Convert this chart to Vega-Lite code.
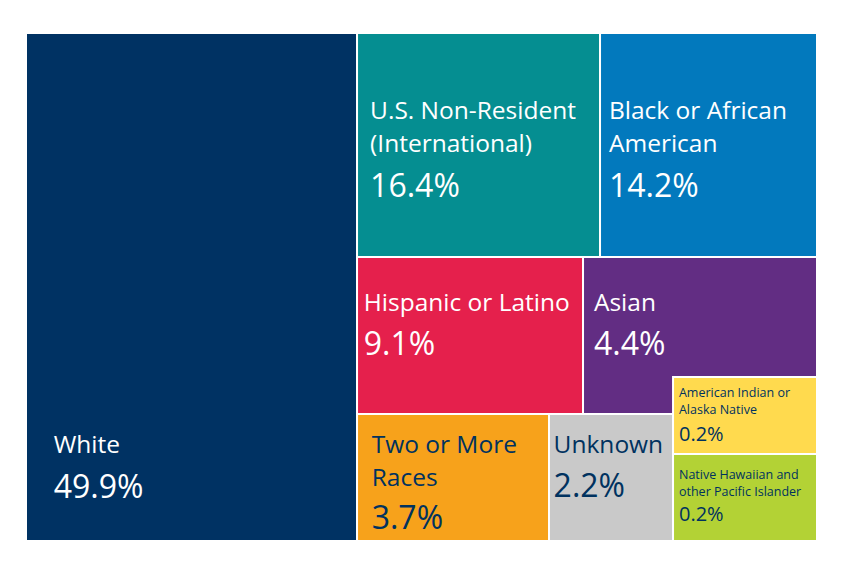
{
  "$schema": "https://vega.github.io/schema/vega-lite/v6.json",
  "width": 791,
  "height": 508,
  "autosize": {"type": "none"},
  "padding": {"left": 26, "top": 33, "right": 31, "bottom": 33},
  "background": "white",
  "config": {"view": {"stroke": null}, "font": "Open Sans"},
  "datasets": {
    "enrollment": [
      {"category": "White", "pct": 49.9},
      {"category": "U.S. Non-Resident (International)", "pct": 16.4},
      {"category": "Black or African American", "pct": 14.2},
      {"category": "Hispanic or Latino", "pct": 9.1},
      {"category": "Asian", "pct": 4.4},
      {"category": "Two or More Races", "pct": 3.7},
      {"category": "Unknown", "pct": 2.2},
      {"category": "American Indian or Alaska Native", "pct": 0.2},
      {"category": "Native Hawaiian and other Pacific Islander", "pct": 0.2}
    ],
    "tiles": [
      {"category": "White", "x0": 0, "x1": 41.85, "y0": 0, "y1": 100, "lx": 3.5, "ly": 82.74, "py": 91.59, "lines": ["White"]},
      {"category": "U.S. Non-Resident (International)", "x0": 41.85, "x1": 72.57, "y0": 0, "y1": 44.09, "lx": 43.5, "ly": 16.93, "py": 32.22, "lines": ["U.S. Non-Resident", "(International)"]},
      {"category": "Black or African American", "x0": 72.57, "x1": 100, "y0": 0, "y1": 44.09, "lx": 73.7, "ly": 16.93, "py": 32.22, "lines": ["Black or African", "American"]},
      {"category": "Hispanic or Latino", "x0": 41.85, "x1": 70.42, "y0": 44.09, "y1": 75.0, "lx": 42.7, "ly": 54.72, "py": 63.39, "lines": ["Hispanic or Latino"]},
      {"category": "Asian", "x0": 70.42, "x1": 100, "y0": 44.09, "y1": 75.0, "lx": 71.8, "ly": 54.72, "py": 63.39, "lines": ["Asian"]},
      {"category": "Two or More Races", "x0": 41.85, "x1": 66.12, "y0": 75.0, "y1": 100, "lx": 43.7, "ly": 82.62, "py": 97.7, "lines": ["Two or More", "Races"]},
      {"category": "Unknown", "x0": 66.12, "x1": 81.8, "y0": 75.0, "y1": 100, "lx": 66.7, "ly": 82.62, "py": 91.28, "lines": ["Unknown"]},
      {"category": "American Indian or Alaska Native", "x0": 81.8, "x1": 100, "y0": 67.72, "y1": 82.87, "lx": 82.55, "ly": 71.71, "py": 80.26, "lines": ["American Indian or", "Alaska Native"]},
      {"category": "Native Hawaiian and other Pacific Islander", "x0": 81.8, "x1": 100, "y0": 82.87, "y1": 100, "lx": 82.55, "ly": 87.8, "py": 96.06, "lines": ["Native Hawaiian and", "other Pacific Islander"]}
    ]
  },
  "data": {"name": "enrollment"},
  "transform": [
    {
      "lookup": "category",
      "from": {
        "data": {"name": "tiles"},
        "key": "category",
        "fields": ["x0", "x1", "y0", "y1", "lx", "ly", "py", "lines"]
      }
    },
    {"calculate": "format(datum.pct, '.1f') + '%'", "as": "pctLabel"}
  ],
  "layer": [
    {
      "mark": {"type": "rect", "stroke": "white", "strokeWidth": 2},
      "encoding": {
        "x": {"field": "x0", "type": "quantitative", "scale": {"domain": [0, 100]}, "axis": null},
        "x2": {"field": "x1"},
        "y": {"field": "y0", "type": "quantitative", "scale": {"domain": [0, 100], "reverse": true}, "axis": null},
        "y2": {"field": "y1"},
        "color": {
          "field": "category",
          "type": "nominal",
          "legend": null,
          "scale": {
            "domain": ["White", "U.S. Non-Resident (International)", "Black or African American", "Hispanic or Latino", "Asian", "Two or More Races", "Unknown", "American Indian or Alaska Native", "Native Hawaiian and other Pacific Islander"],
            "range": ["#003263", "#058E91", "#0279BD", "#E5204C", "#622D83", "#F7A21B", "#C9C9C9", "#FFDA4E", "#B3D235"]
          }
        }
      }
    },
    {
      "transform": [{"filter": "datum.pct >= 1"}],
      "mark": {"type": "text", "align": "left", "baseline": "alphabetic", "fontSize": 24.5, "lineHeight": 33},
      "encoding": {
        "x": {"field": "lx", "type": "quantitative"},
        "y": {"field": "ly", "type": "quantitative"},
        "text": {"field": "lines"},
        "color": {
          "condition": {"test": "indexof(['Two or More Races', 'Unknown'], datum.category) >= 0", "value": "#00325F"},
          "value": "white"
        }
      }
    },
    {
      "transform": [{"filter": "datum.pct >= 1"}],
      "mark": {"type": "text", "align": "left", "baseline": "alphabetic", "fontSize": 32},
      "encoding": {
        "x": {"field": "lx", "type": "quantitative"},
        "y": {"field": "py", "type": "quantitative"},
        "text": {"field": "pctLabel"},
        "color": {
          "condition": {"test": "indexof(['Two or More Races', 'Unknown'], datum.category) >= 0", "value": "#00325F"},
          "value": "white"
        }
      }
    },
    {
      "transform": [{"filter": "datum.pct < 1"}],
      "mark": {"type": "text", "align": "left", "baseline": "alphabetic", "fontSize": 12.5, "lineHeight": 16.5, "color": "#00325F"},
      "encoding": {
        "x": {"field": "lx", "type": "quantitative"},
        "y": {"field": "ly", "type": "quantitative"},
        "text": {"field": "lines"}
      }
    },
    {
      "transform": [{"filter": "datum.pct < 1"}],
      "mark": {"type": "text", "align": "left", "baseline": "alphabetic", "fontSize": 20, "color": "#00325F"},
      "encoding": {
        "x": {"field": "lx", "type": "quantitative"},
        "y": {"field": "py", "type": "quantitative"},
        "text": {"field": "pctLabel"}
      }
    }
  ]
}
